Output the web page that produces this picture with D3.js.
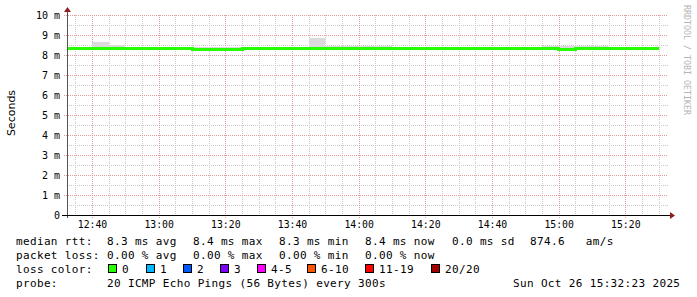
<!DOCTYPE html>
<html>
<head>
<meta charset="utf-8">
<script src="https://cdn.jsdelivr.net/npm/d3@7"></script>
<style>
  body { margin: 0; background: #fff; }
  svg { display: block; }
  text { font-family: "DejaVu Sans Mono", monospace; fill: #000; }
</style>
</head>
<body>
<svg id="chart" width="697" height="297"></svg>
<script>
// 5 minute steps, each value is the step ending at that time (12:35 .. 15:30)
const stepEnds = d3.range(36).map(i => new Date(2025, 9, 26, 12, 35 + i * 5, 0));
const medianMs = [8.31, 8.31, 8.31, 8.31, 8.31, 8.35, 8.35, 8.35, 8.30, 8.30,
                  8.30, 8.33, 8.31, 8.31, 8.31, 8.31, 8.31, 8.31, 8.31, 8.31,
                  8.35, 8.31, 8.31, 8.31, 8.31, 8.31, 8.31, 8.31, 8.31, 8.31,
                  8.29, 8.31, 8.31, 8.31, 8.31, 8.35];
const smokeMaxMs = [8.36, 8.36, 8.65, 8.49, 8.38, 8.40, 8.40, 8.40, 8.40, 8.40,
                    8.42, 8.42, 8.36, 8.36, 8.38, 8.83, 8.44, 8.44, 8.44, 8.44,
                    8.40, 8.36, 8.36, 8.36, 8.42, 8.36, 8.36, 8.36, 8.38, 8.46,
                    8.46, 8.46, 8.46, 8.36, 8.36, 8.40];
const smokeMinMs = medianMs.map(v => v - 0.04);

const yTicks = [0, 1, 2, 3, 4, 5, 6, 7, 8, 9, 10];
const lossColors = [
  { label: "0", color: "#26ff00", x: 108 },
  { label: "1", color: "#00b8ff", x: 146 },
  { label: "2", color: "#0059ff", x: 183 },
  { label: "3", color: "#7e00ff", x: 220 },
  { label: "4-5", color: "#ff00ff", x: 257 },
  { label: "6-10", color: "#ff5500", x: 307 },
  { label: "11-19", color: "#ff0000", x: 365 },
  { label: "20/20", color: "#a10000", x: 431 }
];
const rttItems = ["8.3 ms avg", "8.4 ms max", "8.3 ms min", "8.4 ms now", "0.0 ms sd", "874.6   am/s"];
const lossItems = ["0.00 % avg", "0.00 % max", "0.00 % min", "0.00 % now"];
const itemX = [107, 193, 279, 365, 452, 530];

const svg = d3.select("#chart");
const plotL = 67, plotR = 667, plotT = 15, plotB = 215;

const x = d3.scaleTime()
    .domain([new Date(2025, 9, 26, 12, 32, 30), new Date(2025, 9, 26, 15, 32, 30)])
    .range([plotL, plotR]);
const y = d3.scaleLinear().domain([0, 10]).range([plotB, plotT]);

// grid
const grid = svg.append("g").attr("shape-rendering", "crispEdges");
const minorX = d3.timeMinute.every(5).range(x.domain()[0], x.domain()[1]);
const majorX = d3.timeMinute.every(20).range(x.domain()[0], x.domain()[1]);

grid.selectAll("line.hminor").data(d3.range(0.5, 10, 1)).enter().append("line")
    .attr("x1", plotL).attr("x2", plotR + 1)
    .attr("y1", d => Math.round(y(d)) + 0.5).attr("y2", d => Math.round(y(d)) + 0.5)
    .attr("stroke", "#c8c8c8").attr("stroke-dasharray", "1,1");
grid.selectAll("line.vminor").data(minorX).enter().append("line")
    .attr("x1", d => Math.round(x(d)) + 0.5).attr("x2", d => Math.round(x(d)) + 0.5)
    .attr("y1", plotT).attr("y2", plotB)
    .attr("stroke", "#c8c8c8").attr("stroke-dasharray", "1,1");
grid.selectAll("line.hmajor").data(yTicks.slice(1)).enter().append("line")
    .attr("x1", plotL - 3).attr("x2", plotR + 1)
    .attr("y1", d => Math.round(y(d)) + 0.5).attr("y2", d => Math.round(y(d)) + 0.5)
    .attr("stroke", "#e49a9a").attr("stroke-dasharray", "1,1");
grid.selectAll("line.vmajor").data(majorX).enter().append("line")
    .attr("x1", d => Math.round(x(d)) + 0.5).attr("x2", d => Math.round(x(d)) + 0.5)
    .attr("y1", plotT).attr("y2", plotB + 3)
    .attr("stroke", "#e49a9a").attr("stroke-dasharray", "1,1");

// smoke
svg.append("g").attr("shape-rendering", "crispEdges")
    .selectAll("rect").data(stepEnds).enter().append("rect")
    .attr("x", d => Math.max(plotL, x(new Date(+d - 300000))))
    .attr("width", d => x(d) - Math.max(plotL, x(new Date(+d - 300000))))
    .attr("y", (d, i) => y(smokeMaxMs[i]))
    .attr("height", (d, i) => y(smokeMinMs[i]) - y(smokeMaxMs[i]))
    .attr("fill", "#dadada");

// median line
const pts = stepEnds.map((d, i) => ({ t: new Date(Math.max(+x.domain()[0], +d - 300000)), v: medianMs[i] }));
pts.push({ t: stepEnds[stepEnds.length - 1], v: medianMs[medianMs.length - 1] });
svg.append("path")
    .attr("d", d3.line().x(d => x(d.t)).y(d => y(d.v)).curve(d3.curveStepAfter)(pts))
    .attr("fill", "none")
    .attr("stroke", "#26ff00")
    .attr("stroke-width", 3)
    .attr("shape-rendering", "crispEdges");

// axes
svg.append("line").attr("x1", plotL + 0.5).attr("x2", plotL + 0.5).attr("y1", plotB + 3).attr("y2", 10)
    .attr("stroke", "#555").attr("shape-rendering", "crispEdges");
svg.append("line").attr("x1", plotL - 5).attr("x2", 671).attr("y1", plotB + 0.5).attr("y2", plotB + 0.5)
    .attr("stroke", "#000").attr("shape-rendering", "crispEdges");
svg.append("path").attr("d", "M64,12L71,12L67.5,7Z").attr("fill", "#8f1f1f");
svg.append("path").attr("d", "M670,212L670,219L675,215.5Z").attr("fill", "#8f1f1f");

svg.append("g").selectAll("text").data(yTicks).enter().append("text")
    .attr("x", 60).attr("y", d => y(d) + 3.5)
    .attr("text-anchor", "end")
    .style("font-size", "10px")
    .text(d => d === 0 ? "0" : d + " m");

svg.append("g").selectAll("text").data(majorX).enter().append("text")
    .attr("x", d => x(d) + 0.5).attr("y", 228)
    .attr("text-anchor", "middle")
    .style("font-size", "9.8px")
    .text(d => d3.timeFormat("%H:%M")(d));

svg.append("text")
    .attr("transform", "translate(15,113) rotate(-90)")
    .attr("text-anchor", "middle")
    .style("font-family", "'DejaVu Sans', sans-serif")
    .style("font-size", "11px")
    .text("Seconds");

svg.append("text")
    .attr("transform", "translate(684,5) rotate(90)")
    .attr("textLength", 110)
    .style("font-size", "8.3px")
    .style("fill", "#b4b4b4")
    .text("RRDTOOL / TOBI OETIKER");

// legend
const legend = svg.append("g").style("font-size", "11px").style("letter-spacing", "0.35px");
const rows = [245, 259, 273, 287];
legend.append("text").attr("x", 16).attr("y", rows[0]).text("median rtt:");
legend.selectAll("text.rtt").data(rttItems).enter().append("text").attr("class", "rtt")
    .attr("x", (d, i) => itemX[i]).attr("y", rows[0]).style("white-space", "pre").text(d => d);
legend.append("text").attr("x", 16).attr("y", rows[1]).text("packet loss:");
legend.selectAll("text.loss").data(lossItems).enter().append("text").attr("class", "loss")
    .attr("x", (d, i) => itemX[i]).attr("y", rows[1]).text(d => d);
legend.append("text").attr("x", 16).attr("y", rows[2]).text("loss color:");
const lc = legend.selectAll("g.lc").data(lossColors).enter().append("g").attr("class", "lc");
lc.append("rect")
    .attr("x", d => d.x + 0.5).attr("y", rows[2] - 8.5)
    .attr("width", 8).attr("height", 8)
    .attr("fill", d => d.color).attr("stroke", "#000").attr("shape-rendering", "crispEdges");
lc.append("text").attr("x", d => d.x + 14).attr("y", rows[2]).text(d => d.label);
legend.append("text").attr("x", 16).attr("y", rows[3]).text("probe:");
legend.append("text").attr("x", 107).attr("y", rows[3]).text("20 ICMP Echo Pings (56 Bytes) every 300s");
legend.append("text").attr("x", 513).attr("y", rows[3]).text("Sun Oct 26 15:32:23 2025");
</script>
</body>
</html>
